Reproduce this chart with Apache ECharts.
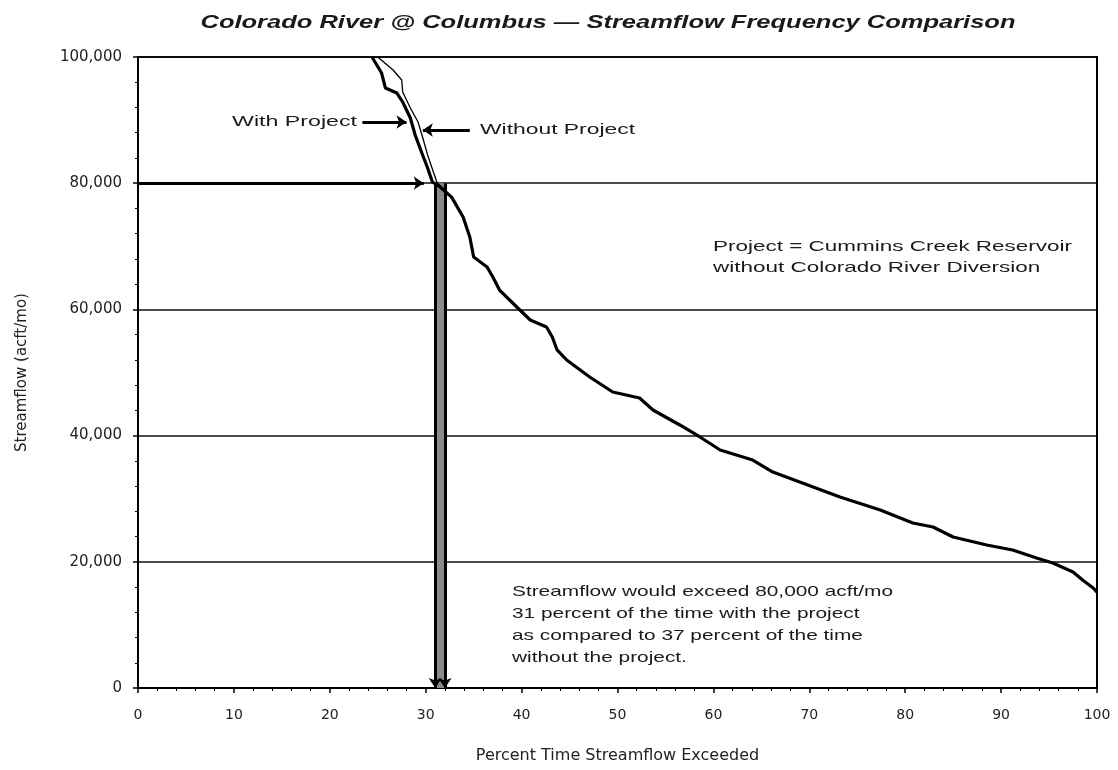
<!DOCTYPE html>
<html>
<head>
<meta charset="utf-8">
<script src="https://cdn.jsdelivr.net/npm/echarts@6/dist/echarts.min.js"></script>
<style>
html,body{margin:0;padding:0;background:#fff;}
#chart{width:1118px;height:770px;}
</style>
</head>
<body>
<div id="chart"></div>
<script>
// ---- data (percent time exceeded, streamflow acft/mo) ----
const withProjectHead = [
  [24.4,100000],[25.4,97460],[25.8,95090],[27.0,94290],[27.6,92870],
  [28.4,90330],[28.9,87640],[29.6,84790],[30.2,82410],[30.7,80190],[31.5,79400]
];
const withoutProjectHead = [
  [25.0,100000],[26.6,97940],[27.5,96350],[27.6,94450],[28.4,91920],
  [29.2,89700],[29.7,87160],[30.2,84470],[30.8,81770],[31.2,80030],[31.8,79240]
];
const sharedTail = [
  [32.7,77800],[33.9,74640],[34.6,71470],[35.0,68300],[36.4,66720],[37.0,65130],
  [37.7,63070],[39.5,60380],[40.9,58320],[42.6,57210],[43.2,55630],[43.7,53570],
  [44.7,51980],[47.1,49290],[49.5,46910],[52.3,45960],[53.7,44060],[56.5,41680],
  [58.6,39780],[60.7,37720],[64.1,36130],[66.2,34230],[69.0,32650],[73.2,30270],
  [77.4,28210],[80.8,26150],[82.9,25520],[85.0,23930],[88.5,22660],[91.2,21870],
  [93.7,20600],[95.4,19810],[97.5,18380],[98.5,17120],[99.6,15850],[100,15210]
];
const withProject = withProjectHead.concat(sharedTail);
const withoutProject = withoutProjectHead.concat(sharedTail);

// exceedance read-off values
const threshold = 80000;
const pctWith = 31;
const pctWithout = 32;

const titleText = 'Colorado River @ Columbus \u2014 Streamflow Frequency Comparison';
const xName = 'Percent Time Streamflow Exceeded';
const yName = 'Streamflow (acft/mo)';
const projectNote = ['Project = Cummins Creek Reservoir', 'without Colorado River Diversion'];
const findingNote = [
  'Streamflow would exceed 80,000 acft/mo',
  '31 percent of the time with the project',
  'as compared to 37 percent of the time',
  'without the project.'
];

// ---- helpers ----
const ctx = document.createElement('canvas').getContext('2d');
function measure(font, text){ ctx.font = font; return ctx.measureText(text).width; }
function textBlock(lines, x, y0, lineH, font, targetW, align){
  const s = targetW / measure(font, lines[0]);
  return lines.map((t,i)=>({
    type:'text', x:x, y:y0 + i*lineH, scaleX:s, scaleY:1, z:100,
    style:{ text:t, font:font, fill:'#1a1a1a', textAlign:align||'left', textVerticalAlign:'middle', verticalAlign:'middle' }
  }));
}

const chart = echarts.init(document.getElementById('chart'), null, {renderer:'canvas'});
const fontN = '15px "Liberation Sans", Arial, sans-serif';
const graphics = [].concat(
  textBlock([titleText], 608, 23, 0, 'italic bold 18px "Liberation Sans", Arial, sans-serif', 815, 'center'),
  textBlock(['With Project'], 357, 122, 0, fontN, 125, 'right'),
  textBlock(['Without Project'], 480, 130, 0, fontN, 155, 'left'),
  textBlock(projectNote, 713, 247, 21, fontN, 359, 'left'),
  textBlock(findingNote, 512, 592, 22, fontN, 381, 'left')
);

const option = {
  backgroundColor:'#fff',
  animation:false,
  grid:{ left:138, right:21, top:57, bottom:82, show:true, borderColor:'#000', borderWidth:2, backgroundColor:'transparent' },
  xAxis:{
    type:'value', min:0, max:100, interval:10,
    name:xName, nameLocation:'middle', nameGap:60,
    nameTextStyle:{ fontFamily:'DejaVu Sans', fontSize:16, color:'#222' },
    axisLine:{ show:true, lineStyle:{ color:'#000', width:2 } },
    axisTick:{ show:true, length:5, lineStyle:{ color:'#000', width:1.5 } },
    minorTick:{ show:true, splitNumber:5, length:3, lineStyle:{ color:'#000', width:1 } },
    axisLabel:{ fontFamily:'DejaVu Sans', fontSize:14, color:'#222', margin:20 },
    splitLine:{ show:false }
  },
  yAxis:{
    type:'value', min:0, max:100000, interval:20000,
    name:yName, nameLocation:'middle', nameGap:108, nameRotate:90,
    nameTextStyle:{ fontFamily:'DejaVu Sans', fontSize:15, color:'#222' },
    axisLine:{ show:true, lineStyle:{ color:'#000', width:2 } },
    axisTick:{ show:true, length:5, lineStyle:{ color:'#000', width:1.5 } },
    minorTick:{ show:true, splitNumber:5, length:3, lineStyle:{ color:'#000', width:1 } },
    axisLabel:{ fontFamily:'DejaVu Sans', fontSize:15, color:'#222', margin:16,
      formatter:(v)=>v.toLocaleString('en-US') },
    splitLine:{ show:true, lineStyle:{ color:'#111', width:1.6 } }
  },
  series:[
    {
      name:'Without Project', type:'line', data:withoutProject, symbol:'none',
      lineStyle:{ color:'#000', width:1.3 }, z:3, clip:true
    },
    {
      name:'With Project', type:'line', data:withProject, symbol:'none',
      lineStyle:{ color:'#000', width:3.2 }, z:4, clip:true
    },
    {
      name:'annotations', type:'line', data:[], z:5,
      markArea:{
        silent:true,
        itemStyle:{ color:'#8a8a8a' },
        data:[[ {coord:[pctWith,0]}, {coord:[pctWithout,threshold]} ]]
      },
      markLine:{
        silent:true, animation:false,
        symbol:['none','arrow'], symbolSize:[10,10],
        label:{ show:false },
        lineStyle:{ color:'#000', width:3, type:'solid' },
        data:[
          [ {coord:[0,threshold]}, {coord:[29.8,threshold]} ],
          [ {coord:[pctWith,threshold]}, {coord:[pctWith,0]} ],
          [ {coord:[pctWithout,threshold]}, {coord:[pctWithout,0]} ],
          [ {coord:[23.4,89700]}, {coord:[28.0,89700]} ],
          [ {coord:[34.6,88430]}, {coord:[29.7,88430]} ]
        ]
      }
    }
  ],
  graphic: graphics
};
chart.setOption(option);
</script>
</body>
</html>
